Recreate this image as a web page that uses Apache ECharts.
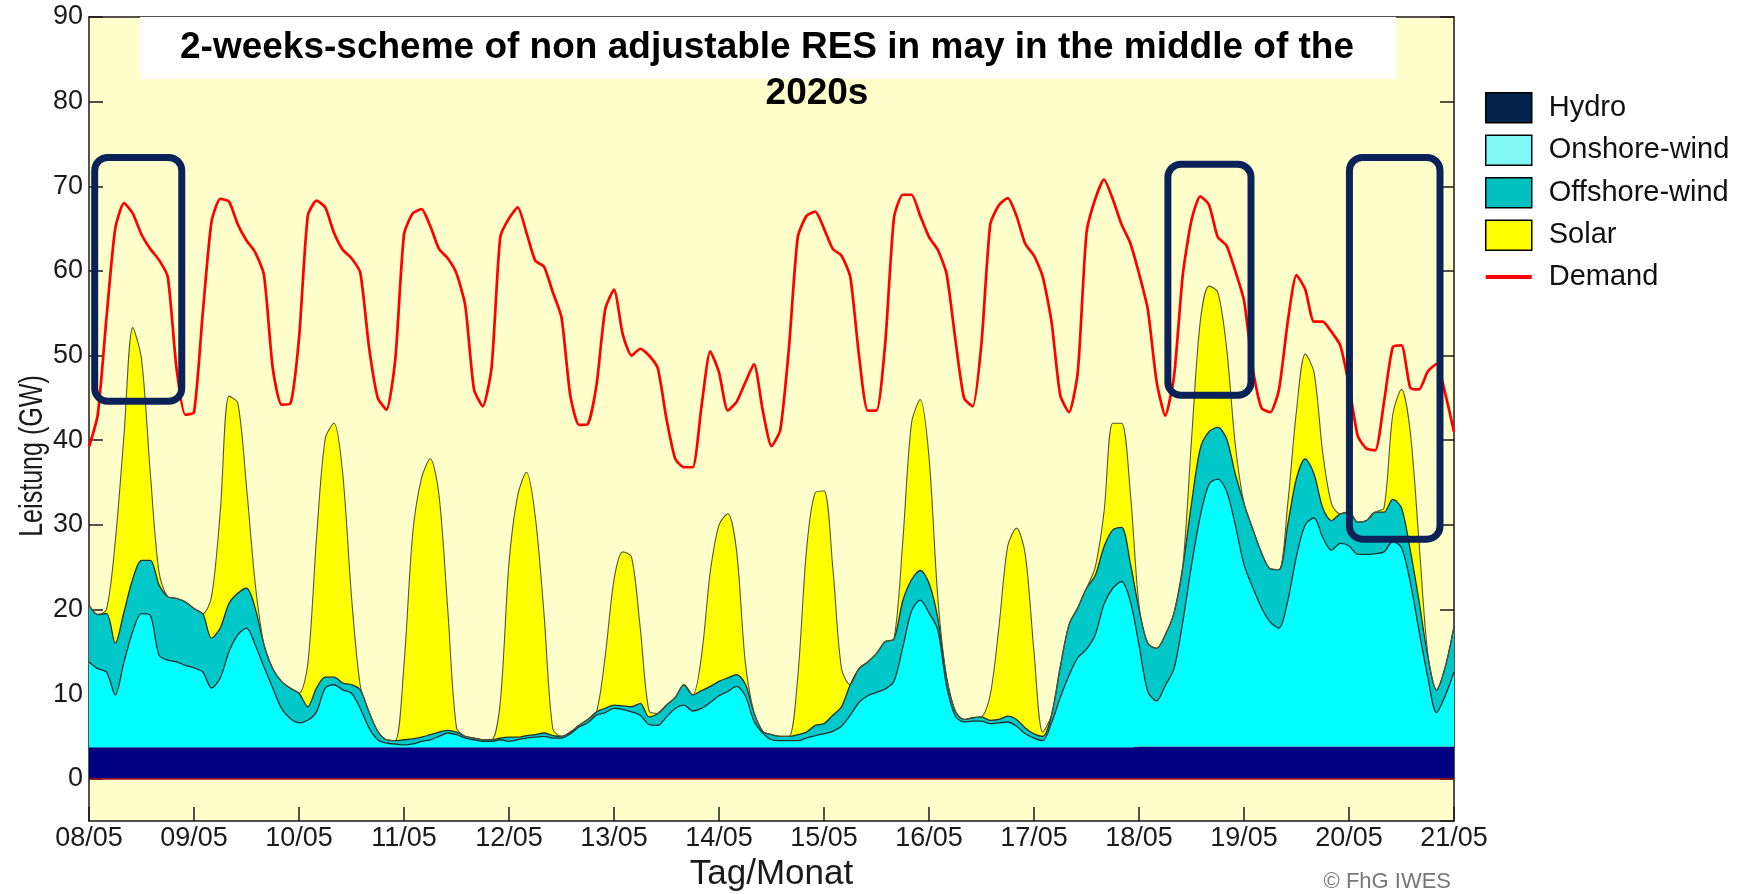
<!DOCTYPE html>
<html>
<head>
<meta charset="utf-8">
<script src="https://cdn.jsdelivr.net/npm/echarts@6/dist/echarts.min.js"></script>
<style>
html,body{margin:0;padding:0;background:#ffffff;}
#chart{width:1740px;height:894px;}
</style>
</head>
<body>
<div id="chart"></div>
<script>
// ---- data (one value every 2 hours, starting 08/05 00:00) ----
const STEP_HOURS = 2;
const xTickLabels = ['08/05','09/05','10/05','11/05','12/05','13/05','14/05','15/05','16/05','17/05','18/05','19/05','20/05','21/05'];
const yTickValues = [0,10,20,30,40,50,60,70,80,90];

const hydro = [
3.7,3.7,3.7,3.7,3.7,3.7,3.7,3.7,3.7,3.7,3.7,3.7,
3.7,3.7,3.7,3.7,3.7,3.7,3.7,3.7,3.7,3.7,3.7,3.7,
3.7,3.7,3.7,3.7,3.7,3.7,3.7,3.7,3.7,3.7,3.7,3.7,
3.7,3.7,3.7,3.7,3.7,3.7,3.7,3.7,3.7,3.7,3.7,3.7,
3.7,3.7,3.7,3.7,3.7,3.7,3.7,3.7,3.7,3.7,3.7,3.7,
3.7,3.7,3.7,3.7,3.7,3.7,3.7,3.7,3.7,3.7,3.7,3.7,
3.7,3.7,3.7,3.7,3.7,3.7,3.7,3.7,3.7,3.7,3.7,3.7,
3.7,3.7,3.7,3.7,3.7,3.7,3.7,3.7,3.7,3.7,3.7,3.7,
3.7,3.7,3.7,3.7,3.7,3.7,3.7,3.7,3.7,3.7,3.7,3.7,
3.7,3.7,3.7,3.7,3.7,3.7,3.7,3.7,3.7,3.7,3.7,3.7,
3.8,3.8,3.8,3.8,3.8,3.8,3.8,3.8,3.8,3.8,3.8,3.8,
3.8,3.8,3.8,3.8,3.8,3.8,3.8,3.8,3.8,3.8,3.8,3.8,
3.8,3.8,3.8,3.8,3.8,3.8,3.8,3.8,3.8,3.8,3.8,3.8,
3.8];

const onshoreWind = [
10.1,9.3,8.9,6.2,10.1,13.7,15.8,15.6,10.9,10.3,10.1,9.7,
9.4,8.9,7.0,8.2,11.3,13.3,14.1,12.1,9.5,7.0,4.6,3.4,
2.9,3.2,4.2,7.0,7.4,6.8,6.4,4.6,2.3,0.9,0.5,0.4,
0.3,0.4,0.7,0.9,1.3,1.7,1.5,1.1,0.9,0.7,0.7,0.9,
0.7,0.9,1.1,1.2,1.3,1.1,1.1,1.6,2.4,2.9,3.8,4.1,
4.6,4.5,4.2,3.8,2.7,2.6,3.6,4.6,5.0,4.3,4.6,5.3,
6.1,6.6,7.2,6.1,3.1,1.7,0.9,0.8,0.8,0.8,1.1,1.4,
1.6,1.9,2.5,3.8,5.3,6.1,6.5,6.9,7.8,11.8,16.1,17.4,
15.9,13.9,7.3,3.7,3.0,3.1,3.1,2.8,2.9,3.0,2.5,1.6,
1.1,0.8,2.9,5.9,8.5,10.6,11.6,13.3,16.9,18.8,19.6,17.3,
12.0,6.5,5.4,7.2,9.2,14.7,21.4,27.2,31.0,31.6,30.2,26.2,
21.5,18.8,16.4,14.7,14.0,17.2,22.5,26.2,27.0,24.7,23.2,24.0,
23.7,22.7,22.7,22.8,23.0,24.2,23.5,19.4,13.7,8.2,4.0,6.0,
8.8];

const offshoreWind = [
6.7,6.4,6.9,6.1,5.9,6.2,6.3,6.5,8.3,7.5,7.5,7.5,
7.0,6.9,5.9,5.9,5.7,4.9,4.7,4.3,2.6,2.3,3.2,3.6,
3.5,1.6,2.8,1.3,0.9,0.8,1.0,2.2,1.9,1.0,0.4,0.4,
0.6,0.6,0.5,0.6,0.5,0.3,0.3,0.2,0.2,0.2,0.2,0.2,
0.5,0.3,0.3,0.3,0.4,0.3,0.2,0.2,0.2,0.4,0.4,0.5,
0.4,0.4,0.6,1.4,0.9,1.4,1.4,1.3,2.4,1.9,2.1,1.9,
1.7,1.6,1.4,1.4,1.0,0.2,0.6,0.5,0.5,0.7,0.7,1.2,
1.2,1.9,2.3,3.6,4.0,4.0,4.6,5.6,5.0,5.5,3.7,3.5,
3.5,1.4,1.0,0.6,0.3,0.4,0.5,0.4,0.4,0.7,0.8,0.7,
0.5,0.5,0.9,3.6,6.0,5.9,7.2,7.0,6.8,6.9,6.4,4.5,
4.2,5.7,6.2,6.0,6.6,6.5,7.3,8.0,6.2,6.1,6.2,6.0,
7.2,6.9,6.5,6.3,6.9,9.0,9.2,7.8,5.2,3.5,3.5,3.5,
4.0,3.8,4.0,4.9,4.7,5.0,4.7,3.8,3.5,2.5,2.7,3.4,
5.4];

const solar = [
0,0,0.5,12,20.9,29.7,23.8,10.4,1.5,0,0,0,
0,0,4.9,13.7,24.5,22.5,12,2.9,0,0,0,0,
0,5,17.7,28.2,30,24.7,10.4,0.5,0,0,0,0,
8.9,24.3,30.6,32.6,28,14.3,0.5,0,0,0,0,4.2,
20.6,28.6,31.1,25.8,14.1,0.8,0,0,0,0,0,6.2,
14.8,18.2,17.7,8.9,0.7,0,0,0,0,0,4.1,13.5,
18.5,19.4,14.7,2.6,0,0,0,0,0,6.8,21.5,27.5,
27.5,17.5,4.5,0,0,0,0,0,0,7,18.5,20.2,
14.9,2.5,0,0,0,0,0,3.0,11,20.1,22.6,20.5,
9.7,0.5,0,0,0,0,0,1,4.1,12.6,12.3,8.4,
0.5,0,0,0,0,0,7.5,15,17.2,16,10.8,3.5,
0,0,0,0,0,2.5,8,12.4,12,6.5,2,0,
0,0,0,0,0.5,10,14,14,7,0.3,0,0,
0];

const demand = [
39.2,43,54.5,65,68,66.8,64.3,62.6,61.3,59.3,48.5,43,
43.3,55,65.8,68.5,68.2,65.5,63.6,62.2,59.5,48.5,44.2,44.3,
52,66.5,68.3,67.5,64.5,62.5,61.5,59.8,51,45,43.6,49.5,
64.3,66.8,67.3,65.3,62.6,61.5,59.7,55.9,46,44,48.5,64,
66.2,67.5,64.5,61.2,60.5,57.5,54.5,45.3,41.8,41.9,46.5,55.5,
57.8,52.5,50,50.8,50,48.5,42.5,37.8,36.8,36.8,44,50.5,
48,43.5,44.5,46.8,49,43.5,39.3,41.2,51,64,66.5,67,
65,62.6,61.8,59.3,50,43.5,43.5,51.5,66.3,69,69,66.5,
64,62.5,59.7,52,45,44,51.5,65.5,67.8,68.6,66.5,63.2,
61.8,59.3,54,45.3,43.3,48,64.5,68.5,70.8,68.5,65.5,63.3,
59.7,55.5,47,42.9,47.5,59.5,66,68.8,67.8,64,63,60,
56.5,48.5,43.8,43.3,46,54,59.5,57.8,54,54,52.8,51.2,
46.5,40.5,39,38.8,44.5,51,51.2,46.2,46,48.1,49,45.5,
41];

// highlighted periods: [fromHour, topGW, toHour, bottomGW]
const highlightBoxes = [
  [1.3, 73.4, 21.2, 44.6],
  [246.6, 72.6, 265.6, 45.3],
  [288.1, 73.4, 308.8, 28.3]
];

const titleLines = ['2-weeks-scheme of non adjustable RES in may in the middle of the', '2020s'];
const yAxisTitle = 'Leistung (GW)';
const xAxisTitle = 'Tag/Monat';
const creditText = '\u00A9 FhG IWES';

// ---- chart ----
const FONT = "'Liberation Sans', Arial, Helvetica, sans-serif";
const AXIS_COLOR = '#1a1a1a';
const SMOOTH = 0.3;
const POINTS_PER_DAY = 24 / STEP_HOURS;
const hourCategories = demand.map((_, i) => String(i * STEP_HOURS));
const X_MAX = (xTickLabels.length - 1) * 24;
const isDayStart = i => i % POINTS_PER_DAY === 0;

const chart = echarts.init(document.getElementById('chart'), null, {renderer: 'canvas'});

const axisLine = {show: true, onZero: false, lineStyle: {color: AXIS_COLOR, width: 1.5}};
const axisTickIn = {show: true, inside: true, length: 14, lineStyle: {color: AXIS_COLOR, width: 1.5}};

const option = {
  animation: false,
  backgroundColor: '#ffffff',
  textStyle: {fontFamily: FONT},
  grid: {left: 89, right: 286, top: 17, bottom: 73, show: true, backgroundColor: '#ffffcc', borderWidth: 0,
    containLabel: false, outerBoundsMode: 'none'},
  legend: {
    orient: 'vertical', left: 1485, top: 92, padding: 0,
    itemWidth: 46, itemHeight: 30, itemGap: 11,
    selectedMode: false,
    textStyle: {fontSize: 29, lineHeight: 30, color: '#111', fontFamily: FONT, padding: [0, 0, 0, 12]},
    data: [
      {name: 'Hydro', icon: 'rect', itemStyle: {color: '#03234b', borderColor: '#000', borderWidth: 1.5}},
      {name: 'Onshore-wind', icon: 'rect', itemStyle: {color: '#80f8f8', borderColor: '#000', borderWidth: 1.5}},
      {name: 'Offshore-wind', icon: 'rect', itemStyle: {color: '#00c0c0', borderColor: '#000', borderWidth: 1.5}},
      {name: 'Solar', icon: 'rect', itemStyle: {color: '#ffff00', borderColor: '#000', borderWidth: 1.5}},
      {name: 'Demand', icon: 'path://M0,0 L46,0 L46,4 L0,4 Z', itemStyle: {color: '#ff0000', borderWidth: 0}}
    ]
  },
  xAxis: [
    {
      type: 'category', data: hourCategories, boundaryGap: false, position: 'bottom',
      axisLine: axisLine,
      axisTick: Object.assign({}, axisTickIn, {interval: isDayStart}),
      splitLine: {show: false},
      axisLabel: {fontSize: 27, color: AXIS_COLOR, margin: 4, fontFamily: FONT, interval: isDayStart,
        formatter: (val, idx) => xTickLabels[Math.round(idx / POINTS_PER_DAY)] || ''},
      name: xAxisTitle, nameLocation: 'middle', nameGap: 32,
      nameTextStyle: {fontSize: 35, color: AXIS_COLOR, fontFamily: FONT}
    },
    {
      type: 'value', min: 0, max: X_MAX, interval: 24, position: 'top',
      axisLine: axisLine, axisTick: {show: false}, axisLabel: {show: false}, splitLine: {show: false}
    }
  ],
  yAxis: [
    {
      type: 'value', min: -5, max: 90, splitNumber: 10, position: 'left',
      axisLine: axisLine, axisTick: axisTickIn, splitLine: {show: false},
      axisLabel: {fontSize: 27, color: AXIS_COLOR, margin: 6, fontFamily: FONT, showMinLabel: false,
        formatter: v => (yTickValues.indexOf(v) >= 0 ? String(v) : '')}
    },
    {
      type: 'value', min: -5, max: 90, splitNumber: 10, position: 'right',
      axisLine: axisLine, axisTick: axisTickIn, axisLabel: {show: false}, splitLine: {show: false}
    }
  ],
  series: [
    {
      name: 'Hydro', type: 'line', stack: 'res', data: hydro, smooth: SMOOTH,
      symbol: 'none', lineStyle: {width: 0, opacity: 0}, itemStyle: {color: '#000080'},
      areaStyle: {color: '#000080', opacity: 1}, z: 2
    },
    {
      name: 'Onshore-wind', type: 'line', stack: 'res', data: onshoreWind, smooth: SMOOTH,
      symbol: 'none', lineStyle: {color: '#1f3030', width: 1.3}, itemStyle: {color: '#00ffff'},
      areaStyle: {color: '#00ffff', opacity: 1}, z: 2
    },
    {
      name: 'Offshore-wind', type: 'line', stack: 'res', data: offshoreWind, smooth: SMOOTH,
      symbol: 'none', lineStyle: {color: '#1f3030', width: 1.3}, itemStyle: {color: '#00c8c8'},
      areaStyle: {color: '#00c8c8', opacity: 1}, z: 2
    },
    {
      name: 'Solar', type: 'line', stack: 'res', data: solar, smooth: SMOOTH,
      symbol: 'none', lineStyle: {color: '#55553a', width: 1.1}, itemStyle: {color: '#ffff00'},
      areaStyle: {color: '#ffff00', opacity: 1}, z: 2
    },
    {
      name: 'Demand', type: 'line', data: demand, smooth: 0.2,
      symbol: 'none', lineStyle: {color: '#ff0000', width: 2.7}, itemStyle: {color: '#ff0000'}, z: 4,
      markLine: {
        silent: true, symbol: 'none', label: {show: false},
        lineStyle: {color: '#a01010', width: 1.5, type: 'solid'},
        data: [{yAxis: 0}]
      }
    }
  ]
};

chart.setOption(option);

const toPx = (h, v) => chart.convertToPixel({xAxisIndex: 1, yAxisIndex: 0}, [h, v]);
const boxEls = highlightBoxes.map(b => {
  const p0 = toPx(b[0], b[1]);
  const p1 = toPx(b[2], b[3]);
  return {
    type: 'rect', z: 60, silent: true,
    shape: {x: p0[0], y: p0[1], width: p1[0] - p0[0], height: p1[1] - p0[1], r: 13},
    style: {fill: null, stroke: '#0b2258', lineWidth: 7}
  };
});

chart.setOption({
  graphic: [
    {type: 'rect', z: 50, silent: true, shape: {x: 140, y: 17, width: 1256, height: 62}, style: {fill: '#ffffff'}},
    {type: 'text', z: 55, silent: true, x: 767, y: 48,
      style: {text: titleLines[0], fill: '#000', fontSize: 37, fontWeight: 'bold', fontFamily: FONT,
        align: 'center', verticalAlign: 'middle'}},
    {type: 'text', z: 55, silent: true, x: 817, y: 94,
      style: {text: titleLines[1], fill: '#000', fontSize: 37, fontWeight: 'bold', fontFamily: FONT,
        align: 'center', verticalAlign: 'middle'}},
    {type: 'text', z: 55, silent: true, x: 33, y: 456, rotation: Math.PI / 2, scaleX: 0.76,
      style: {text: yAxisTitle, fill: AXIS_COLOR, fontSize: 33, fontFamily: FONT, align: 'center', verticalAlign: 'middle'}},
    {type: 'text', z: 55, silent: true, x: 1451, y: 882,
      style: {text: creditText, fill: '#777', fontSize: 22, fontFamily: FONT, align: 'right', verticalAlign: 'middle'}}
  ].concat(boxEls)
});
</script>
</body>
</html>
